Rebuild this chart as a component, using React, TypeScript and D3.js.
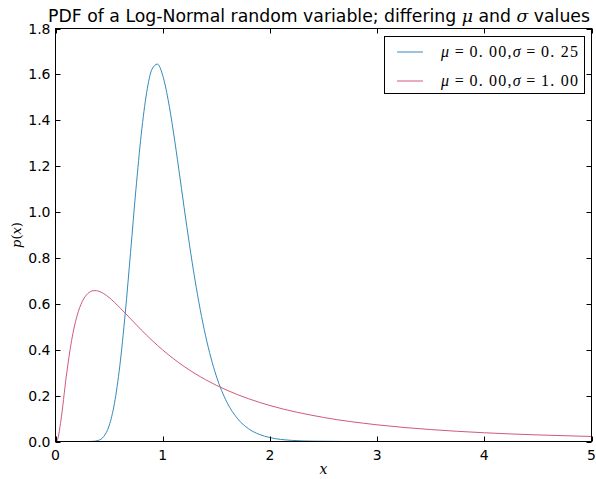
import React, { useEffect, useRef } from 'react';
import * as d3 from 'd3';

// sigma = 0.25 curve
const xNarrow = [0, 0.3, 0.35, 0.4, 0.45, 0.5, 0.55, 0.6, 0.65, 0.7, 0.75, 0.8, 0.85, 0.9, 0.95, 1.0, 1.05, 1.1, 1.15, 1.2, 1.25, 1.3, 1.35, 1.4, 1.45, 1.5, 1.6, 1.7, 1.8, 1.9, 2.0, 2.2, 2.4, 2.7, 3.0, 4.0, 5.0];
const yNarrow = [0, 0.00005, 0.0007, 0.0048, 0.0216, 0.0683, 0.1663, 0.3299, 0.5561, 0.8239, 1.0975, 1.3393, 1.5199, 1.6224, 1.6449, 1.5958, 1.4911, 1.349, 1.1869, 1.0193, 0.8571, 0.7077, 0.5751, 0.4609, 0.3647, 0.2855, 0.1703, 0.0987, 0.0559, 0.0311, 0.0171, 0.005, 0.0015, 0.0002, 0, 0, 0];

// sigma = 1.00 curve
const xWide = [0, 0.01, 0.02, 0.05, 0.1, 0.15, 0.2, 0.25, 0.3, 0.35, 0.3679, 0.4, 0.45, 0.5, 0.6, 0.7, 0.8, 0.9, 1.0, 1.1, 1.2, 1.4, 1.6, 1.8, 2.0, 2.5, 3.0, 3.5, 4.0, 4.5, 5.0];
const yWide = [0, 0.001, 0.0095, 0.0898, 0.2816, 0.4399, 0.5463, 0.6104, 0.6442, 0.657, 0.6577, 0.6555, 0.6445, 0.6275, 0.5836, 0.5348, 0.4864, 0.4408, 0.3989, 0.361, 0.327, 0.2693, 0.2233, 0.1865, 0.1569, 0.1049, 0.0727, 0.052, 0.0381, 0.0286, 0.0219];

const xTicks = [0, 1, 2, 3, 4, 5];
const yTicks = [0, 0.2, 0.4, 0.6, 0.8, 1.0, 1.2, 1.4, 1.6, 1.8];

const series = [
  { label: ['0. 00', '0. 25'], color: '#348ABD', xs: xNarrow, ys: yNarrow },
  { label: ['0. 00', '1. 00'], color: '#CF5A7A', xs: xWide, ys: yWide },
];

const W = 596;
const H = 479;

export default function App() {
  const ref = useRef<SVGSVGElement>(null);

  useEffect(() => {
    if (!ref.current) return;
    const svg = d3.select(ref.current);
    svg.selectAll('*').remove();

    const left = 55.5, right = 591.5, top = 28.5, bottom = 441.5;
    const x = d3.scaleLinear().domain([0, 5]).range([left, right]);
    const y = d3.scaleLinear().domain([0, 1.8]).range([bottom, top]);
    const font = '"DejaVu Sans", sans-serif';
    const serif = '"DejaVu Serif", serif';

    svg.append('rect').attr('width', W).attr('height', H).attr('fill', '#fff');

    series.forEach((s) => {
      const pts = s.xs.map((v, i) => [x(v), y(s.ys[i])] as [number, number]);
      svg
        .append('path')
        .attr('d', d3.line().curve(d3.curveMonotoneX)(pts))
        .attr('fill', 'none')
        .attr('stroke', s.color)
        .attr('stroke-width', 1);
    });

    // frame
    svg
      .append('rect')
      .attr('x', left)
      .attr('y', top)
      .attr('width', right - left)
      .attr('height', bottom - top)
      .attr('fill', 'none')
      .attr('stroke', '#000')
      .attr('stroke-width', 1);

    // x ticks (inward, both sides)
    xTicks.forEach((t) => {
      const px = Math.round(x(t)) + 0.5;
      svg.append('line').attr('x1', px).attr('x2', px).attr('y1', bottom).attr('y2', bottom - 5).attr('stroke', '#000');
      svg.append('line').attr('x1', px).attr('x2', px).attr('y1', top).attr('y2', top + 5).attr('stroke', '#000');
      svg
        .append('text')
        .attr('x', x(t))
        .attr('y', bottom + 18)
        .attr('text-anchor', 'middle')
        .attr('font-family', font)
        .attr('font-size', 14)
        .text(String(t));
    });

    yTicks.forEach((t) => {
      const py = Math.round(y(t)) + 0.5;
      svg.append('line').attr('x1', left).attr('x2', left + 5).attr('y1', py).attr('y2', py).attr('stroke', '#000');
      svg.append('line').attr('x1', right).attr('x2', right - 5).attr('y1', py).attr('y2', py).attr('stroke', '#000');
      svg
        .append('text')
        .attr('x', left - 5)
        .attr('y', y(t) + 5)
        .attr('text-anchor', 'end')
        .attr('font-family', font)
        .attr('font-size', 14)
        .text(t.toFixed(1));
    });

    // title
    const title = svg
      .append('text')
      .attr('x', 319)
      .attr('y', 22)
      .attr('text-anchor', 'middle')
      .attr('font-family', font)
      .attr('font-size', 17.3);
    title.append('tspan').text('PDF of a Log-Normal random variable; differing ');
    title.append('tspan').attr('font-family', serif).attr('font-style', 'italic').text('μ');
    title.append('tspan').text(' and ');
    title.append('tspan').attr('font-family', serif).attr('font-style', 'italic').text('σ');
    title.append('tspan').text(' values');

    // axis labels
    svg
      .append('text')
      .attr('x', (left + right) / 2)
      .attr('y', 474)
      .attr('text-anchor', 'middle')
      .attr('font-family', serif)
      .attr('font-style', 'italic')
      .attr('font-size', 14)
      .text('x');

    const yl = svg
      .append('text')
      .attr('transform', `translate(21,${(top + bottom) / 2}) rotate(-90)`)
      .attr('text-anchor', 'middle')
      .attr('font-family', serif)
      .attr('font-size', 13);
    yl.append('tspan').attr('font-style', 'italic').text('p');
    yl.append('tspan').text('(');
    yl.append('tspan').attr('font-style', 'italic').text('x');
    yl.append('tspan').text(')');

    // legend
    const lg = svg.append('g');
    lg.append('rect')
      .attr('x', 384.5)
      .attr('y', 36.5)
      .attr('width', 200)
      .attr('height', 57)
      .attr('fill', '#fff')
      .attr('stroke', '#000');
    series.forEach((s, i) => {
      const cy = 52 + i * 29;
      lg.append('line').attr('x1', 397).attr('x2', 423).attr('y1', cy).attr('y2', cy).attr('stroke', s.color);
      const t = lg
        .append('text')
        .attr('x', 441)
        .attr('y', cy + 5)
        .attr('font-family', '"Liberation Serif", serif')
        .attr('font-size', 16)
        .attr('textLength', 137)
        .attr('lengthAdjust', 'spacing');
      t.append('tspan').attr('font-style', 'italic').text('μ');
      t.append('tspan').text('\u2009=\u2009' + s.label[0] + ',');
      t.append('tspan').attr('font-style', 'italic').text('σ');
      t.append('tspan').text('\u2009=\u2009' + s.label[1]);
    });
  }, []);

  return <svg ref={ref} width={W} height={H} style={{ position: 'absolute', left: 0, top: 0 }} />;
}
